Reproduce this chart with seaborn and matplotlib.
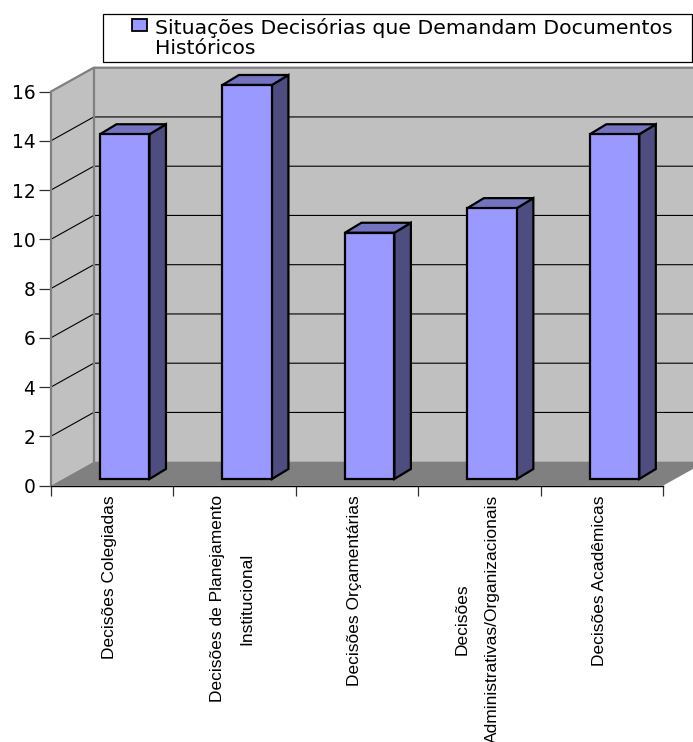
import matplotlib
matplotlib.use("Agg")
import matplotlib.pyplot as plt
import seaborn as sns
from matplotlib.patches import Polygon, Rectangle
from matplotlib.transforms import Affine2D, IdentityTransform

categories = [
    "Decisões Colegiadas",
    "Decisões de Planejamento\nInstitucional",
    "Decisões Orçamentárias",
    "Decisões\nAdministrativas/Organizacionais",
    "Decisões Acadêmicas",
]
values = [14, 16, 10, 11, 14]
series_name = "Situações Decisórias que Demandam Documentos\nHistóricos"
y_ticks = [0, 2, 4, 6, 8, 10, 12, 14, 16]

FRONT = "#9999FF"
SIDE = "#4D4D80"
TOP = "#7373BF"
WALL = "#C0C0C0"
FLOOR = "#808080"
EDGE = "#808080"

W, H = 693, 742
BACK = (43, 24)        # pixel depth of the chart box
BAR_SHIFT = (12.8, 6.7)  # bar front relative to the box front
BAR_DEPTH = (16.5, 10)   # pixel depth of a bar

sns.set_theme(style="white")
plt.rcParams["font.family"] = ["DejaVu Sans"]
plt.rcParams["text.color"] = "black"

fig = plt.figure(figsize=(W / 100, H / 100), dpi=100)
ax = fig.add_axes([50.7 / W, (H - 485.7) / H, 612.3 / W, 394 / H])
ax.patch.set_alpha(0)

sns.barplot(x=list(range(len(values))), y=values, color=FRONT, saturation=1,
            width=0.404, edgecolor="black", linewidth=1.6, zorder=5,
            label=series_name, ax=ax)
ax.set_xlim(-0.5, len(values) - 0.5)
ax.set_ylim(0, 16)
fig.canvas.draw()


def px(x, y, dx=0, dy=0):
    """Display position of a data point pushed back by a pixel offset."""
    a, b = ax.transData.transform((x, y))
    return (a + dx, b + dy)


def face(points, color, z, edge="none", lw=0):
    patch = Polygon(points, closed=True, facecolor=color, edgecolor=edge,
                    linewidth=lw, transform=IdentityTransform(),
                    zorder=z, joinstyle="miter")
    ax.add_patch(patch)
    patch.set_clip_path(None)
    patch.set_clip_box(fig.bbox)


def stroke(points, color, lw, z):
    xs, ys = zip(*points)
    line = ax.plot(xs, ys, color=color, lw=lw, transform=IdentityTransform(),
                   zorder=z, solid_capstyle="butt")[0]
    line.set_clip_path(None)
    line.set_clip_box(fig.bbox)


xl, xr = ax.get_xlim()
bx, by = BACK
bars = list(ax.patches)

# Walls and floor of the box
face([px(xl, 0, bx, by), px(xr, 0, bx, by), px(xr, 16, bx, by), px(xl, 16, bx, by)], WALL, 0.5)
face([px(xl, 0), px(xl, 0, bx, by), px(xl, 16, bx, by), px(xl, 16)], WALL, 0.6)
face([px(xl, 0), px(xr, 0), px(xr, 0, bx, by), px(xl, 0, bx, by)], FLOOR, 0.7)

# Gridlines run across the side wall and along the back wall
for t in y_ticks[1:-1]:
    stroke([px(xl, t), px(xl, t, bx, by), px(xr, t, bx, by)], "black", 0.8, 1)
stroke([px(xl, 16), px(xl, 16, bx, by), px(xr, 16, bx, by)], EDGE, 1.6, 1.2)
stroke([px(xl, 0, bx, by), px(xl, 16, bx, by)], EDGE, 1.6, 1.2)

# Bars: shift the front faces forward and add the side and top faces
sx, sy = BAR_SHIFT
dx, dy = BAR_DEPTH
shift = Affine2D().translate(sx, sy)
for bar in bars:
    x0, x1 = bar.get_x(), bar.get_x() + bar.get_width()
    top = bar.get_height()
    bar.set_transform(ax.transData + shift)
    bar.set_clip_on(False)
    bar.set_joinstyle("miter")
    ox, oy = sx + dx, sy + dy
    face([px(x1, 0, sx, sy), px(x1, 0, ox, oy), px(x1, top, ox, oy), px(x1, top, sx, sy)],
         SIDE, 4, "black", 1.6)
    face([px(x0, top, sx, sy), px(x1, top, sx, sy), px(x1, top, ox, oy), px(x0, top, ox, oy)],
         TOP, 4, "black", 1.6)

# Axes
sns.despine(ax=ax, top=True, right=True)
ax.spines["left"].set_color(EDGE)
ax.spines["left"].set_linewidth(1.6)
ax.spines["bottom"].set_color("black")
ax.spines["bottom"].set_linewidth(1.0)
ax.spines["bottom"].set_zorder(6)

ax.set_yticks(y_ticks)
ax.set_yticklabels([str(t) for t in y_ticks], fontsize=13.4, color="black")
ax.tick_params(axis="y", left=True, length=8.6, width=0.9, color="#303030", pad=2.5)

ax.set_xticks([i - 0.5 for i in range(len(categories) + 1)], minor=True)
ax.set_xticks(range(len(categories)))
ax.set_xticklabels(categories, rotation=90, va="top", ha="center",
                   multialignment="center", linespacing=2.2,
                   family=["Liberation Sans Narrow", "Liberation Sans"],
                   fontsize=12.5, color="black")
ax.tick_params(axis="x", which="minor", bottom=True, length=7.2, width=0.9, color="#303030")
ax.tick_params(axis="x", which="major", bottom=False, length=0, pad=6.8)
for label in ax.get_xticklabels():
    label.set_transform(label.get_transform() + Affine2D().translate(-2, 0))

# Legend frame above the chart, with the key on the first text line
fig.add_artist(Rectangle((102.5 / W, (H - 62) / H), 589 / W, 48 / H,
                         transform=fig.transFigure, facecolor="white",
                         edgecolor="black", linewidth=0.9, zorder=-1))
leg = ax.legend(loc="upper left", bbox_to_anchor=(132 / W, (H - 18.5) / H),
                bbox_transform=fig.transFigure, borderaxespad=0, borderpad=0,
                fontsize=14.7, frameon=False, handlelength=0.74, handleheight=0.54,
                handletextpad=0.39, labelspacing=0)
leg.set_zorder(10)
for text in leg.get_texts():
    text.set_linespacing(1.0)
    text.set_color("black")
for h in leg.legend_handles:
    h.set_edgecolor("black")
    h.set_linewidth(1.3)
    h.set_y(h.get_y() + 9.4)

fig.savefig("out.png", dpi=100)
